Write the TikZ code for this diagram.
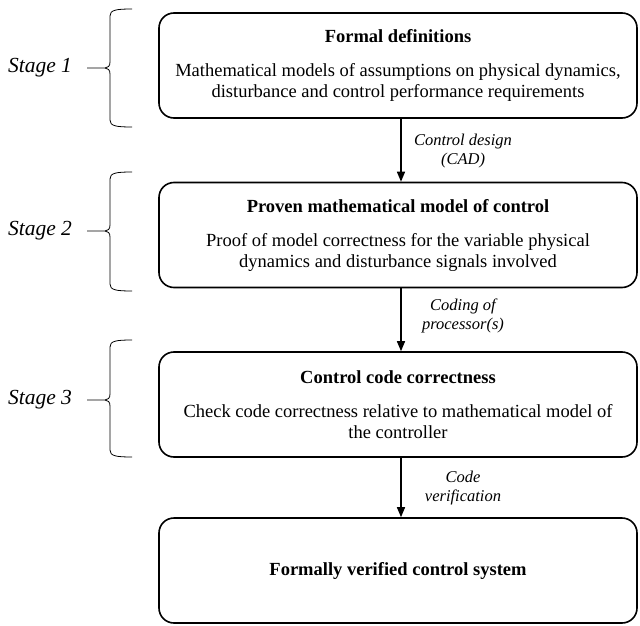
\documentclass[tikz,border=0pt]{standalone}
\usepackage{fontspec}
\setmainfont{Liberation Serif}
\usetikzlibrary{arrows.meta}
\begin{document}
\begin{tikzpicture}[x=1pt,y=-1pt,
  box/.style={draw, line width=1.6pt, rounded corners=15pt, minimum width=478pt,
    minimum height=105pt, align=center, inner sep=0pt,
    font=\fontsize{18.5}{21}\selectfont},
  arr/.style={-{Triangle[length=10pt,width=8pt]}, line width=1.4pt},
  lab/.style={align=center, inner sep=0pt, font=\fontsize{16.5}{19}\selectfont\itshape},
  stagelab/.style={inner sep=0pt, font=\fontsize{21.5}{24}\selectfont\itshape},
  bracepath/.style={line width=0.8pt}]
\useasboundingbox (0,0) rectangle (640,626);

\node[box] (b1) at (398,65.5) {\textbf{Formal definitions}\\[13pt]Mathematical models of assumptions on physical dynamics,\\disturbance and control performance requirements};
\node[box] (b2) at (398,235) {\textbf{Proven mathematical model of control}\\[13pt]Proof of model correctness for the variable physical\\dynamics and disturbance signals involved};
\node[box] (b3) at (398,404.5) {\textbf{Control code correctness}\\[13pt]Check code correctness relative to mathematical model of\\the controller};
\node[box] (b4) at (398,570.5) {\textbf{Formally verified control system}};

\draw[arr] ([xshift=3pt]b1.south) -- ([xshift=3pt]b2.north);
\draw[arr] ([xshift=3pt]b2.south) -- ([xshift=3pt]b3.north);
\draw[arr] ([xshift=3pt]b3.south) -- ([xshift=3pt]b4.north);

\node[lab] (l1) at (463,151) {Control design\\(CAD)};
\node[lab] (l2) at (463,316) {Coding of\\processor(s)};
\node[lab] (l3) at (463,488) {Code\\verification};

\foreach \t/\m/\b/\n in {9/68/127/1, 172/231/291/2, 340/400/457/3} {
  \node[stagelab] (s\n) at (40,\m) {Stage \n};
  \coordinate (t\n) at (105,\m);
  \draw[bracepath] (87,\m) -- (t\n)
    .. controls (108,\m) and (110,\m-2) .. (110,\m-6) -- (110,\t+7)
    .. controls (110,\t+1) and (116,\t) .. (132,\t);
  \draw[bracepath] (t\n)
    .. controls (108,\m) and (110,\m+2) .. (110,\m+6) -- (110,\b-7)
    .. controls (110,\b-1) and (116,\b) .. (132,\b);
}
\end{tikzpicture}
\end{document}
